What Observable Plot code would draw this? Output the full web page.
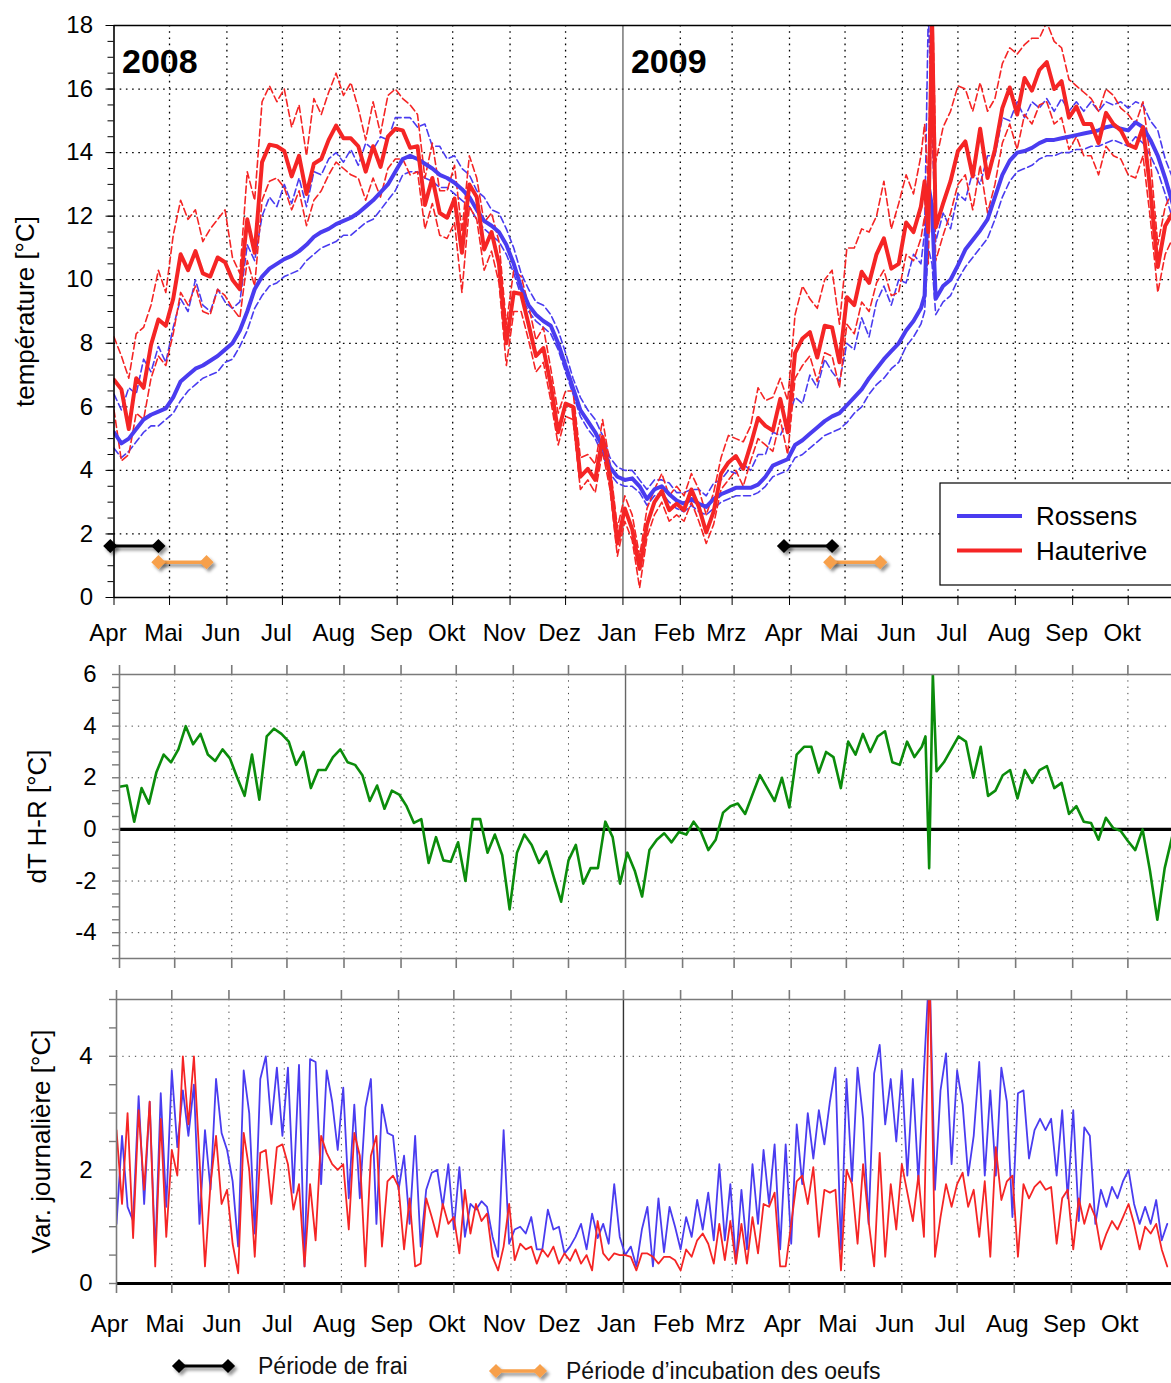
<!DOCTYPE html>
<html lang="fr">
<head>
<meta charset="utf-8">
<title>Température Rossens – Hauterive 2008–2009</title>
<script src="https://cdn.jsdelivr.net/npm/d3@7"></script>
<script src="https://cdn.jsdelivr.net/npm/@observablehq/plot@0.6"></script>
<style>
  html, body { margin: 0; padding: 0; background: #fff; overflow: hidden; }
  #chart { position: relative; width: 1171px; height: 1383px; overflow: hidden;
           font-family: "Liberation Sans", Arial, Helvetica, sans-serif; color: #000; }
  #chart svg { position: absolute; left: 0; }
</style>
</head>
<body>
<div id="chart"></div>
<script>
// ---------------------------------------------------------------------------
// Data: water temperature of the Sarine below Rossens and at Hauterive,
// April 2008 – October 2009. Days are counted from 1 April 2008.
// ---------------------------------------------------------------------------
const monthNames = ["Jan", "Feb", "Mrz", "Apr", "Mai", "Jun", "Jul", "Aug", "Sep", "Okt", "Nov", "Dez"];

// sampling days of the temperature series (denser around the June 2009 event)
const tempDay = [...d3.range(0, 437, 4), 438, 440, 442, ...d3.range(444, 573, 4)];

const rossensMean = [
  5.2, 4.85, 5.0, 5.3, 5.6, 5.75, 5.85, 5.95, 6.3, 6.8,
  7.0, 7.2, 7.3, 7.45, 7.6, 7.8, 8.0, 8.4, 9.0, 9.7,
  10.1, 10.35, 10.5, 10.65, 10.75, 10.9, 11.1, 11.35, 11.5, 11.6,
  11.75, 11.85, 11.95, 12.1, 12.3, 12.5, 12.75, 13.0, 13.4, 13.8,
  13.9, 13.8, 13.65, 13.5, 13.3, 13.2, 13.05, 12.85, 12.6, 12.2,
  11.85, 11.7, 11.5, 11.1, 10.5, 9.75, 9.2, 8.9, 8.7, 8.55,
  8.0, 7.3, 6.6, 5.9, 5.55, 5.2, 4.75, 4.1, 3.8, 3.7,
  3.75, 3.5, 3.1, 3.4, 3.5, 3.25, 3.05, 2.95, 3.1, 2.95,
  2.85, 3.1, 3.25, 3.35, 3.45, 3.45, 3.45, 3.55, 3.8, 4.15,
  4.25, 4.35, 4.8, 4.95, 5.15, 5.35, 5.55, 5.7, 5.8, 6.05,
  6.3, 6.55, 6.9, 7.2, 7.5, 7.75, 8.0, 8.4, 8.7, 9.1,
  9.5, 13.0, 12.3,
  9.4, 9.8, 10.0, 10.45, 10.95, 11.25, 11.55, 11.9, 12.6, 13.3,
  13.75, 14.0, 14.05, 14.15, 14.3, 14.4, 14.4, 14.45, 14.5, 14.55,
  14.6, 14.65, 14.7, 14.8, 14.85, 14.75, 14.7, 14.95, 14.8, 14.4,
  13.9, 13.2, 12.4
];
const rossensMin = [
  4.7, 4.4, 4.6, 4.9, 5.2, 5.4, 5.4, 5.6, 5.8, 6.2,
  6.5, 6.7, 6.9, 7.0, 7.1, 7.4, 7.5, 7.9, 8.4, 9.1,
  9.5, 9.8, 9.9, 10.1, 10.2, 10.3, 10.6, 10.8, 11.0, 11.1,
  11.2, 11.4, 11.4, 11.6, 11.8, 11.9, 12.2, 12.5, 12.8, 13.3,
  13.4, 13.4, 13.2, 13.1, 12.9, 12.9, 12.7, 12.5, 12.3, 11.9,
  11.6, 11.4, 11.2, 10.8, 10.2, 9.5, 9.0, 8.7, 8.5, 8.3,
  7.8, 7.1, 6.4, 5.7, 5.3, 5.0, 4.5, 3.9, 3.6, 3.5,
  3.5, 3.3, 2.9, 3.2, 3.3, 3.0, 2.8, 2.7, 2.9, 2.7,
  2.6, 2.8, 3.0, 3.1, 3.2, 3.2, 3.2, 3.3, 3.5, 3.8,
  3.9, 4.0, 4.4, 4.5, 4.7, 4.9, 5.1, 5.2, 5.3, 5.5,
  5.8, 6.0, 6.4, 6.7, 6.9, 7.2, 7.4, 7.9, 8.2, 8.6,
  9.0, 11.0, 10.5,
  8.9, 9.3, 9.5, 10.0, 10.4, 10.7, 11.0, 11.3, 11.9, 12.6,
  13.1, 13.4, 13.5, 13.6, 13.8, 13.9, 13.9, 14.0, 14.0, 14.1,
  14.1, 14.2, 14.2, 14.3, 14.4, 14.3, 14.2, 14.5, 14.3, 13.9,
  13.4, 12.7, 11.9
];
const rossensMax = [
  6.4, 5.9, 6.6, 6.4, 7.5, 7.1, 7.9, 7.4, 8.5, 9.4,
  9.0, 10.0, 9.2, 9.0, 9.7, 9.3, 9.1, 9.3, 11.1, 10.6,
  12.0, 12.6, 12.3, 13.0, 12.4, 13.2, 12.3, 13.4, 13.3, 13.8,
  14.0, 13.7, 14.1, 13.6, 14.3, 14.1, 14.5, 14.4, 15.1, 15.1,
  15.1, 14.8, 14.9, 14.2, 14.2, 13.8, 13.9, 13.5, 13.3, 12.8,
  12.6, 12.2, 12.1, 11.6, 11.0, 10.2, 9.7, 9.3, 9.2, 8.9,
  8.4, 7.7, 6.9, 6.3, 5.9, 5.6, 5.1, 4.4, 4.1, 4.0,
  4.0, 3.7, 3.4, 3.7, 3.7, 3.6, 3.3, 3.3, 3.4, 3.4,
  3.2, 3.6, 3.7, 4.0, 3.9, 4.2, 4.0, 4.5, 4.5, 5.2,
  5.1, 5.6, 6.3, 6.1, 7.0, 6.6, 7.5, 7.1, 6.8, 8.0,
  7.8, 8.8, 8.2, 9.3, 9.8, 9.2, 10.0, 9.9, 10.8, 10.5,
  11.5, 18.5, 14.8,
  11.2, 12.1, 11.6, 12.7, 12.5, 13.4, 13.0, 13.9, 13.9, 15.1,
  15.0, 15.6, 15.1, 15.6, 15.4, 15.7, 15.3, 15.7, 15.3, 15.6,
  15.3, 15.6, 15.3, 15.6, 15.5, 15.6, 15.4, 15.6, 15.5, 15.0,
  14.7, 13.8, 13.2
];
const hauteriveMean = [
  6.85, 6.55, 5.3, 6.9, 6.6, 7.95, 8.75, 8.55, 9.4, 10.8,
  10.3, 10.9, 10.2, 10.1, 10.7, 10.55, 10.0, 9.7, 11.9, 10.85,
  13.7, 14.25, 14.2, 14.05, 13.25, 13.9, 12.7, 13.65, 13.8, 14.4,
  14.85, 14.45, 14.45, 14.2, 13.4, 14.2, 13.55, 14.5, 14.75, 14.7,
  14.15, 14.2, 12.35, 13.2, 12.1, 11.95, 12.55, 10.85, 13.0, 12.6,
  10.95, 11.5, 10.5, 8.0, 9.6, 9.55, 8.6, 7.6, 7.85, 6.7,
  5.2, 6.1, 6.0, 3.8, 4.05, 3.7, 5.05, 3.8, 1.7, 2.8,
  2.15, 0.9, 2.3, 3.0, 3.35, 2.75, 2.95, 2.75, 3.4, 2.85,
  2.05, 2.7, 3.9, 4.25, 4.45, 4.05, 4.8, 5.65, 5.4, 5.25,
  6.25, 5.2, 7.7, 8.15, 8.35, 7.55, 8.55, 8.5, 7.4, 9.45,
  9.2, 10.25, 9.9, 10.8, 11.3, 10.35, 10.5, 11.8, 11.5, 12.3,
  13.1, 11.5, 18.3,
  11.65, 12.4, 13.1, 14.05, 14.35, 13.25, 14.75, 13.2, 14.1, 15.4,
  16.05, 15.2, 16.35, 15.95, 16.6, 16.85, 16.0, 16.25, 15.1, 15.45,
  14.9, 14.9, 14.3, 15.25, 14.9, 14.7, 14.25, 14.15, 14.8, 12.8,
  10.4, 11.7, 12.1
];
const hauteriveMin = [
  5.9, 4.3, 4.5, 5.8, 5.6, 6.9, 7.6, 7.3, 8.3, 9.6,
  9.2, 9.8, 9.0, 8.9, 9.7, 9.5, 9.1, 8.8, 10.6, 9.8,
  12.5, 13.1, 13.2, 12.9, 12.2, 12.8, 11.7, 12.5, 12.8, 13.3,
  13.7, 13.5, 13.3, 13.2, 12.5, 13.2, 12.6, 13.5, 13.8, 13.8,
  13.3, 13.4, 11.6, 12.4, 11.4, 11.3, 11.8, 9.6, 12.3, 11.9,
  10.3, 10.9, 9.9, 7.3, 9.0, 9.0, 8.1, 7.1, 7.4, 6.2,
  4.8, 5.7, 5.6, 3.4, 3.7, 3.3, 4.6, 3.4, 1.3, 2.4,
  1.8, 0.3, 1.9, 2.6, 3.0, 2.4, 2.6, 2.4, 3.0, 2.4,
  1.7, 2.3, 3.4, 3.7, 4.0, 3.5, 4.3, 5.0, 4.8, 4.6,
  5.6, 4.5, 6.9, 7.3, 7.6, 6.8, 7.7, 7.6, 6.6, 8.6,
  8.3, 9.3, 9.0, 9.9, 10.3, 9.5, 9.6, 10.8, 10.6, 11.3,
  12.0, 10.5, 16.0,
  10.6, 11.4, 12.1, 13.0, 13.3, 12.2, 13.6, 12.1, 13.0, 14.3,
  14.9, 14.1, 15.2, 14.9, 15.5, 15.6, 14.9, 15.1, 14.1, 14.5,
  13.9, 13.9, 13.3, 14.2, 13.9, 13.8, 13.3, 13.2, 13.9, 11.9,
  9.6, 10.8, 11.3
];
const hauteriveMax = [
  8.2, 7.6, 6.9, 8.3, 8.5, 9.2, 10.3, 9.6, 11.4, 12.5,
  11.9, 12.2, 11.2, 11.6, 11.9, 12.2, 10.7, 10.2, 13.4, 12.5,
  15.6, 16.1, 15.6, 16.0, 14.8, 15.5, 13.9, 15.7, 15.2, 15.9,
  16.5, 15.8, 16.2, 15.4, 14.4, 15.6, 14.6, 15.8, 16.0, 15.7,
  15.5, 15.2, 13.2, 14.3, 12.8, 12.8, 13.6, 11.5, 13.9, 13.2,
  11.8, 12.1, 11.2, 8.6, 10.3, 10.1, 9.2, 8.1, 8.5, 7.2,
  5.8, 6.5, 6.5, 4.4, 4.5, 4.2, 5.6, 4.2, 2.2, 3.2,
  2.6, 1.3, 2.8, 3.4, 3.9, 3.2, 3.5, 3.2, 3.9, 3.4,
  2.6, 3.3, 4.4, 5.1, 5.0, 4.9, 5.4, 6.6, 6.2, 6.3,
  6.9, 6.2, 8.9, 9.8, 9.4, 9.1, 10.0, 10.3, 8.6, 11.0,
  11.0, 11.6, 11.5, 12.0, 13.1, 11.6, 12.4, 13.3, 12.7, 13.9,
  14.9, 12.9, 19.8,
  13.7, 14.8, 15.3, 16.1, 16.0, 15.3, 16.2, 15.3, 15.7, 16.8,
  17.3, 17.1, 17.4, 17.6, 17.6, 18.1, 17.5, 17.3, 16.3, 16.1,
  15.9, 15.7, 15.3, 16.0, 15.8, 15.4, 15.2, 14.9, 15.6, 13.8,
  11.1, 12.3, 12.8
];

// daily temperature range, sampled every third day
const varDay = d3.range(0, 571, 3);
const rossensVar = [
  1.05, 2.6, 1.35, 1.1, 3.3, 1.4, 3.2, 0.5, 3.35, 1.35,
  3.75, 2.4, 3.4, 2.6, 3.5, 1.05, 2.7, 1.65, 3.6, 2.65,
  2.35, 1.8, 0.65, 3.75, 3.0, 0.88, 3.6, 4.0, 2.8, 3.8,
  2.6, 3.8, 1.6, 3.85, 0.3, 3.95, 3.9, 1.75, 3.75, 3.2,
  2.35, 3.45, 1.5, 3.15, 1.5, 3.1, 3.6, 1.05, 3.15, 2.65,
  2.6, 1.65, 2.25, 1.05, 2.6, 0.65, 1.65, 1.95, 2.0, 1.35,
  2.1, 0.95, 2.05, 0.82, 1.4, 1.3, 1.45, 1.35, 0.82, 0.47,
  2.7, 0.7, 0.95, 1.0, 0.88, 1.17, 0.6, 0.6, 1.3, 0.95,
  1.0, 0.53, 0.65, 0.82, 1.05, 0.6, 1.23, 0.8, 1.05, 0.7,
  1.75, 0.82,
  0.5, 0.65, 0.3, 0.95, 1.35, 0.3, 1.5, 0.55, 1.35, 1.0,
  0.6, 1.17, 0.82, 1.47, 0.95, 1.6, 0.76, 2.1, 0.76, 1.75,
  0.35, 1.65, 0.6, 2.1, 1.05, 2.35, 1.4, 2.45, 0.6, 2.45,
  0.7, 2.8, 1.75, 3.0, 2.2, 3.05, 2.45, 3.2, 3.8, 0.6,
  3.6, 1.8, 3.8, 2.9, 1.05, 3.7, 4.2, 2.8, 3.6, 2.5,
  3.75, 1.9, 3.6, 1.8, 3.75, 5.6, 1.65, 3.4, 4.05, 2.1,
  3.75, 3.15, 1.9, 2.6, 3.9, 1.9, 3.4, 1.9, 3.8, 3.2,
  1.17, 3.35, 3.4, 2.2, 2.7, 2.9, 2.7, 2.9, 1.9, 3.05,
  1.5, 3.05, 1.1, 2.75, 2.6, 1.05, 1.65, 1.35, 1.7, 1.5,
  1.8, 2.0, 1.4, 1.05, 1.35, 1.05, 1.47, 0.76, 1.05
];
const hauteriveVar = [
  2.7, 1.4, 3.0, 0.8, 3.05, 1.65, 3.2, 0.3, 2.9, 0.82,
  2.35, 1.9, 4.0, 2.8, 4.0, 2.2, 0.3, 1.75, 2.6, 1.4,
  1.65, 0.7, 0.18, 2.65, 2.0, 0.47, 2.3, 2.35, 1.4, 2.4,
  2.45, 2.1, 1.3, 1.75, 0.3, 1.75, 0.76, 2.6, 2.3, 2.1,
  2.0, 2.1, 0.95, 2.65, 2.25, 0.3, 2.25, 2.6, 0.65, 1.8,
  1.9, 1.7, 0.6, 1.5, 0.3, 0.35, 1.5, 1.17, 0.82, 1.4,
  1.05, 1.17, 0.53, 1.65, 0.88, 1.4, 1.1, 1.23, 0.47, 0.23,
  0.65, 1.4, 0.41, 0.7, 0.6, 0.65, 0.35, 0.6, 0.47, 0.65,
  0.35, 0.53, 0.4, 0.6, 0.35, 0.5, 0.23, 1.1, 0.53, 0.41,
  0.53, 0.5,
  0.5, 0.47, 0.23, 0.53, 0.53, 0.47, 0.35, 0.47, 0.47, 0.41,
  0.23, 0.6, 0.47, 0.76, 0.88, 0.7, 0.35, 1.05, 0.41, 1.1,
  0.35, 1.05, 0.35, 1.17, 0.53, 1.4, 1.35, 1.6, 0.3, 0.3,
  1.05, 1.8, 1.9, 1.4, 2.05, 0.82, 1.65, 1.6, 1.65, 0.23,
  2.0, 1.75, 0.7, 2.1, 1.1, 0.3, 2.3, 0.47, 1.75, 0.95,
  2.1, 1.6, 1.1, 1.9, 0.82, 5.6, 0.47, 1.17, 1.75, 1.35,
  1.75, 1.95, 1.35, 1.65, 0.82, 1.8, 0.47, 2.4, 1.47, 1.8,
  1.9, 0.47, 1.75, 1.5, 1.7, 1.8, 1.65, 1.7, 0.7, 1.5,
  1.65, 0.6, 1.5, 1.05, 1.4, 1.17, 0.6, 0.88, 1.1, 0.95,
  1.17, 1.4, 1.05, 0.6, 1.0, 0.88, 1.05, 0.6, 0.3
];

// spawning and egg incubation periods
const spawning = [
  {start: "2008-03-30", end: "2008-04-25"},
  {start: "2009-03-29", end: "2009-04-24"}
];
const incubation = [
  {start: "2008-04-25", end: "2008-05-21"},
  {start: "2009-04-23", end: "2009-05-20"}
];
const yearLabels = [
  {year: "2008", date: "2008-04-01"},
  {year: "2009", date: "2009-01-01"}
];
const stations = [
  {name: "Rossens", color: "#4a3cf0"},
  {name: "Hauterive", color: "#f52525"}
];

// ---------------------------------------------------------------------------
// Helpers
// ---------------------------------------------------------------------------
const W = 1171;
const BLUE = stations[0].color, RED = stations[1].color;
const GREEN = "#0b8c0b", ORANGE = "#f7a04b", GREY = "#7a7a7a";
const FONT = '"Liberation Sans", Arial, Helvetica, sans-serif';
const origin = Date.UTC(2008, 3, 1);
const dayToDate = d => new Date(origin + d * 864e5);
const newYear = new Date(Date.UTC(2009, 0, 1));

const temp = tempDay.map((d, i) => ({
  date: dayToDate(d),
  rMean: rossensMean[i], rMin: rossensMin[i], rMax: rossensMax[i],
  hMean: hauteriveMean[i], hMin: hauteriveMin[i], hMax: hauteriveMax[i],
  dT: hauteriveMean[i] - rossensMean[i]
}));
const daily = varDay.map((d, i) => ({date: dayToDate(d), r: rossensVar[i], h: hauteriveVar[i]}));
const toDates = list => list.map(p => ({start: new Date(p.start), end: new Date(p.end)}));
const spawn = toDates(spawning), incub = toDates(incubation);

const monthTicks = d3.utcMonth.range(dayToDate(0), dayToDate(573));
const monthGrid = monthTicks.filter(d => +d !== +dayToDate(0) && +d !== +newYear);
const monthLabel = d => monthNames[d.getUTCMonth()];
const blank = () => "";
const plain = d => String(d);

const dotted = {stroke: "#000", strokeOpacity: 1, strokeWidth: 1.3, strokeDasharray: "1.6,4.6"};
const dottedGrey = {stroke: "#444", strokeOpacity: 1, strokeWidth: 1, strokeDasharray: "1.3,5"};
const style = {fontFamily: FONT, background: "transparent", overflow: "visible", color: "#000"};

const chart = document.getElementById("chart");
const place = (svg, top) => { svg.style.top = top + "px"; chart.appendChild(svg); return svg; };

// vertical axis title, centred on the frame's left edge
const yTitle = (text, dx) =>
  Plot.text([text], {text: d => d, frameAnchor: "left", textAnchor: "middle", lineAnchor: "middle",
                     rotate: -90, dx, fontSize: 26});

// ---------------------------------------------------------------------------
// Panel 1: temperatures
// ---------------------------------------------------------------------------
const top1 = Plot.plot({
  width: W, height: 655,
  marginTop: 25, marginBottom: 58, marginLeft: 113.5, marginRight: 0,
  style,
  x: {type: "utc", domain: [dayToDate(0), dayToDate(571.4)], label: null},
  y: {domain: [0, 18], label: null},
  marks: [
    Plot.gridY(d3.range(2, 17, 2), dotted),
    Plot.gridX(monthGrid, dotted),
    Plot.ruleX([newYear], {stroke: "#555", strokeWidth: 1.2}),
    Plot.line(temp, {x: "date", y: "rMin", stroke: BLUE, strokeWidth: 1.6, strokeDasharray: "7,3.5", clip: true}),
    Plot.line(temp, {x: "date", y: "rMax", stroke: BLUE, strokeWidth: 1.6, strokeDasharray: "7,3.5", clip: true}),
    Plot.line(temp, {x: "date", y: "hMin", stroke: RED, strokeWidth: 1.6, strokeDasharray: "7,3.5", clip: true}),
    Plot.line(temp, {x: "date", y: "hMax", stroke: RED, strokeWidth: 1.6, strokeDasharray: "7,3.5", clip: true}),
    Plot.line(temp, {x: "date", y: "rMean", stroke: BLUE, strokeWidth: 4, clip: true}),
    Plot.line(temp, {x: "date", y: "hMean", stroke: RED, strokeWidth: 4, clip: true}),
    Plot.ruleY([18], {stroke: "#000", strokeWidth: 1.6}),
    Plot.ruleY([0], {stroke: "#000", strokeWidth: 1.6}),
    Plot.ruleX([dayToDate(0)], {stroke: "#000", strokeWidth: 1.6}),
    Plot.axisY(d3.range(0, 18.01, 0.5), {anchor: "left", tickSize: 6, tickFormat: blank, label: null}),
    Plot.axisY(d3.range(0, 19, 2), {anchor: "left", tickSize: 8, tickPadding: 13, fontSize: 24, tickFormat: plain, label: null}),
    Plot.axisX(monthTicks, {anchor: "bottom", tickSize: 8, tickFormat: blank, label: null}),
    Plot.axisX(monthTicks, {anchor: "bottom", tickSize: 0, tickPadding: 26, dx: -6, fontSize: 24, tickFormat: monthLabel, label: null}),
    yTitle("température [°C]", -88.5),
    Plot.text(yearLabels, {x: d => new Date(d.date), y: 18, text: "year", textAnchor: "start", dx: 8, dy: 37, fontSize: 34, fontWeight: "bold"}),
    // spawning / incubation periods
    Plot.link(spawn, {x1: "start", x2: "end", y1: 1.62, y2: 1.62, stroke: "#000", strokeWidth: 3.2}),
    Plot.dot(spawn.flatMap(p => [p.start, p.end]), {x: d => d, y: 1.62, symbol: "diamond2", r: 6.4, fill: "#000", stroke: "none"}),
    Plot.link(incub, {x1: "start", x2: "end", y1: 1.11, y2: 1.11, stroke: ORANGE, strokeWidth: 3.6}),
    Plot.dot(incub.flatMap(p => [p.start, p.end]), {x: d => d, y: 1.11, symbol: "diamond2", r: 6.4, fill: ORANGE, stroke: "none"})
  ]
});
place(top1, 0);

{
  const svg = d3.select(top1);
  svg.insert("defs", ":first-child")
    .append("filter").attr("id", "periodShadow").attr("filterUnits", "userSpaceOnUse")
    .attr("x", 0).attr("y", 0).attr("width", W).attr("height", 655)
    .append("feDropShadow").attr("dx", 2.5).attr("dy", 3).attr("stdDeviation", 1.8)
    .attr("flood-color", "#000").attr("flood-opacity", 0.4);
  svg.selectAll('g[aria-label="link"], g[aria-label="dot"]').attr("filter", "url(#periodShadow)");

  // station legend
  const lg = svg.append("g").attr("font-family", FONT).attr("text-anchor", "start");
  lg.append("rect").attr("x", 940).attr("y", 483).attr("width", 260).attr("height", 102)
    .attr("fill", "#fff").attr("stroke", "#000").attr("stroke-width", 1.2);
  stations.forEach((s, i) => {
    const y = 516 + i * 34.5;
    lg.append("line").attr("x1", 957).attr("x2", 1022).attr("y1", y).attr("y2", y)
      .attr("stroke", s.color).attr("stroke-width", 4);
    lg.append("text").attr("x", 1036).attr("y", y).attr("dy", "0.35em")
      .attr("text-anchor", "start").attr("font-size", 26).attr("fill", "#000").text(s.name);
  });
}

// ---------------------------------------------------------------------------
// Panel 2: difference Hauterive – Rossens
// ---------------------------------------------------------------------------
const mid = Plot.plot({
  width: W, height: 330,
  marginTop: 19, marginBottom: 27, marginLeft: 119, marginRight: 0,
  style,
  x: {type: "utc", domain: [dayToDate(0), dayToDate(571.7)], label: null},
  y: {domain: [-5, 6], label: null},
  marks: [
    Plot.gridY([-4, -2, 2, 4], dottedGrey),
    Plot.gridX(monthGrid, dottedGrey),
    Plot.ruleX([newYear], {stroke: "#666", strokeWidth: 1.4}),
    Plot.ruleY([0], {stroke: "#000", strokeWidth: 3.2}),
    Plot.line(temp, {x: "date", y: "dT", stroke: GREEN, strokeWidth: 2.6, clip: true}),
    Plot.ruleY([6], {stroke: GREY, strokeWidth: 1.6}),
    Plot.ruleY([-5], {stroke: GREY, strokeWidth: 1.6}),
    Plot.ruleX([dayToDate(0)], {stroke: GREY, strokeWidth: 1.6}),
    Plot.axisY(d3.range(-5, 6.01, 0.5), {anchor: "left", tickSize: 7, stroke: GREY, strokeWidth: 1.4, tickFormat: blank, label: null}),
    Plot.axisY([6, 4, 2, 0, -2, -4], {anchor: "left", tickSize: 0, tickPadding: 23, fontSize: 24, tickFormat: plain, label: null}),
    Plot.axisX(monthTicks, {anchor: "top", tickSize: 10, stroke: GREY, strokeWidth: 1.6, tickFormat: blank, label: null}),
    Plot.axisX(monthTicks, {anchor: "bottom", tickSize: 10, stroke: GREY, strokeWidth: 1.6, tickFormat: blank, label: null}),
    yTitle("dT H-R [°C]", -82)
  ]
});
place(mid, 655);

// ---------------------------------------------------------------------------
// Panel 3: daily temperature range
// ---------------------------------------------------------------------------
const bottom = Plot.plot({
  width: W, height: 358,
  marginTop: 14, marginBottom: 60, marginLeft: 116, marginRight: 0,
  style,
  x: {type: "utc", domain: [dayToDate(0), dayToDate(572.3)], label: null},
  y: {domain: [0, 5], label: null},
  marks: [
    Plot.gridY([2, 4], dottedGrey),
    Plot.gridX(monthGrid, dottedGrey),
    Plot.ruleX([newYear], {stroke: "#333", strokeWidth: 1.4}),
    Plot.line(daily, {x: "date", y: "r", stroke: BLUE, strokeWidth: 1.8, clip: true}),
    Plot.line(daily, {x: "date", y: "h", stroke: RED, strokeWidth: 1.8, clip: true}),
    Plot.ruleY([5], {stroke: GREY, strokeWidth: 1.6}),
    Plot.ruleY([0], {stroke: "#000", strokeWidth: 3.2}),
    Plot.ruleX([dayToDate(0)], {stroke: GREY, strokeWidth: 1.6}),
    Plot.axisY(d3.range(0, 5.01, 0.5), {anchor: "left", tickSize: 7, stroke: GREY, strokeWidth: 1.4, tickFormat: blank, label: null}),
    Plot.axisY([0, 2, 4], {anchor: "left", tickSize: 0, tickPadding: 24, fontSize: 24, tickFormat: plain, label: null}),
    Plot.axisX(monthTicks, {anchor: "top", tickSize: 10, stroke: GREY, strokeWidth: 1.6, tickFormat: blank, label: null}),
    Plot.axisX(monthTicks, {anchor: "bottom", tickSize: 10, stroke: GREY, strokeWidth: 1.6, tickFormat: blank, label: null}),
    Plot.axisX(monthTicks, {anchor: "bottom", tickSize: 0, tickPadding: 31, dx: -7, fontSize: 24, tickFormat: monthLabel, label: null}),
    yTitle("Var. journalière [°C]", -75)
  ]
});
place(bottom, 985);

// ---------------------------------------------------------------------------
// Key for the period markers
// ---------------------------------------------------------------------------
{
  const foot = d3.select(chart).append("svg")
    .attr("width", W).attr("height", 40).style("top", "1343px")
    .attr("font-family", FONT).attr("text-anchor", "start");
  foot.append("defs").append("filter").attr("id", "keyShadow").attr("filterUnits", "userSpaceOnUse")
    .attr("x", 0).attr("y", 0).attr("width", W).attr("height", 40)
    .append("feDropShadow").attr("dx", 2.5).attr("dy", 3).attr("stdDeviation", 1.8)
    .attr("flood-color", "#000").attr("flood-opacity", 0.4);
  const keys = [
    {label: "Période de frai", color: "#000", x1: 179, x2: 228, y: 23, tx: 258, w: 3.2},
    {label: "Période d’incubation des oeufs", color: ORANGE, x1: 496, x2: 540, y: 28, tx: 566, w: 3.6}
  ];
  const diamond = d3.symbol(d3.symbolDiamond2, Math.PI * 6.4 * 6.4)();
  keys.forEach(k => {
    const g = foot.append("g").attr("filter", "url(#keyShadow)");
    g.append("line").attr("x1", k.x1).attr("x2", k.x2).attr("y1", k.y).attr("y2", k.y)
      .attr("stroke", k.color).attr("stroke-width", k.w);
    [k.x1, k.x2].forEach(x => g.append("path").attr("d", diamond)
      .attr("transform", `translate(${x},${k.y})`).attr("fill", k.color));
    foot.append("text").attr("x", k.tx).attr("y", k.y).attr("dy", "0.35em")
      .attr("font-size", 23).attr("fill", "#111").text(k.label);
  });
}
</script>
</body>
</html>
